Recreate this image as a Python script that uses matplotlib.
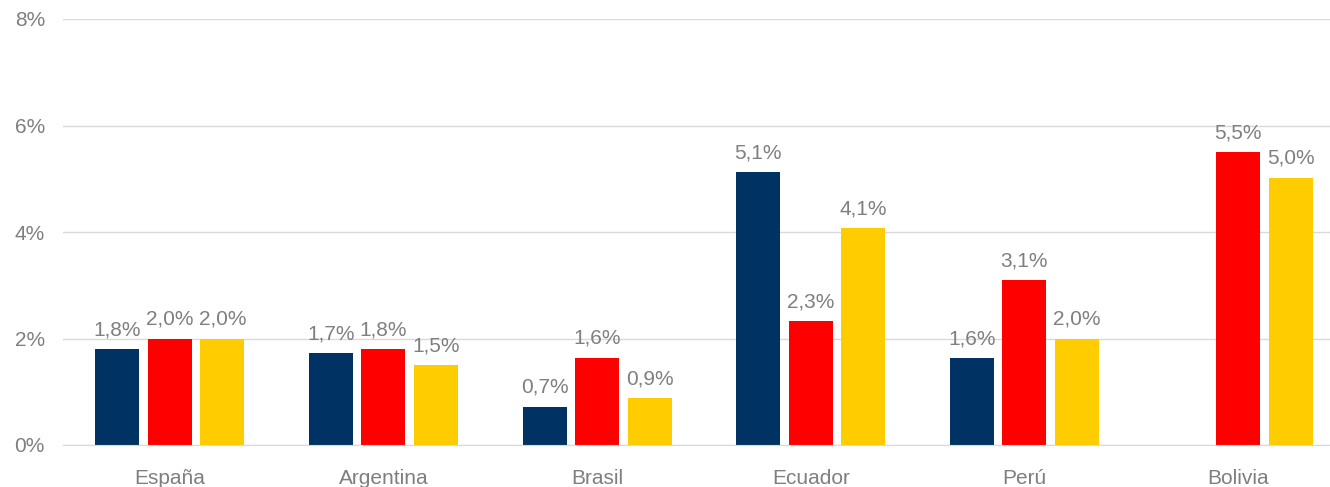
import numpy as np
import matplotlib.pyplot as plt

plt.rcParams['font.family'] = ['Liberation Sans', 'DejaVu Sans']

paises = ['España', 'Argentina', 'Brasil', 'Ecuador', 'Perú', 'Bolivia']
serie_1 = [1.8, 1.72, 0.72, 5.12, 1.63, np.nan]
serie_2 = [2.0, 1.8, 1.64, 2.32, 3.1, 5.5]
serie_3 = [2.0, 1.5, 0.88, 4.07, 2.0, 5.02]
colores = ['#003263', '#FF0000', '#FFCC00']
yticks = [0, 2, 4, 6, 8]

gris = '#7F7F7F'

fig = plt.figure(figsize=(13.3, 4.87), dpi=100)
ax = fig.add_axes([63 / 1330, 1 - 445 / 487, 1 - 63 / 1330, (445 - 19) / 487])

x = np.arange(len(paises))
ancho = 0.206
paso = 0.246
for i, (serie, color) in enumerate(zip([serie_1, serie_2, serie_3], colores)):
    pos = x + (i - 1) * paso
    ax.bar(pos, serie, width=ancho, color=color, zorder=3)
    for xp, v in zip(pos, serie):
        if np.isnan(v):
            continue
        ax.annotate(('%.1f%%' % v).replace('.', ','), (xp, v), xytext=(0, 7),
                    textcoords='offset points', ha='center', va='bottom',
                    fontsize=15, color=gris)

# el area de trazado queda recortada por la derecha
ax.set_xlim(-0.5, 5.43)
ax.set_ylim(0, 8)
ax.set_yticks(yticks)
ax.set_yticklabels(['%d%%' % t for t in yticks])
ax.set_xticks(x)
ax.set_xticklabels(paises)
ax.tick_params(axis='both', length=0, labelsize=15, labelcolor=gris)
ax.tick_params(axis='y', pad=13)
ax.tick_params(axis='x', pad=17)
ax.grid(axis='y', color='#D9D9D9', linewidth=1, zorder=0)
for s in ['top', 'right', 'left']:
    ax.spines[s].set_visible(False)
ax.spines['bottom'].set_color('#D9D9D9')
ax.spines['bottom'].set_zorder(4)

plt.savefig('out.png', dpi=100)
plt.close()
